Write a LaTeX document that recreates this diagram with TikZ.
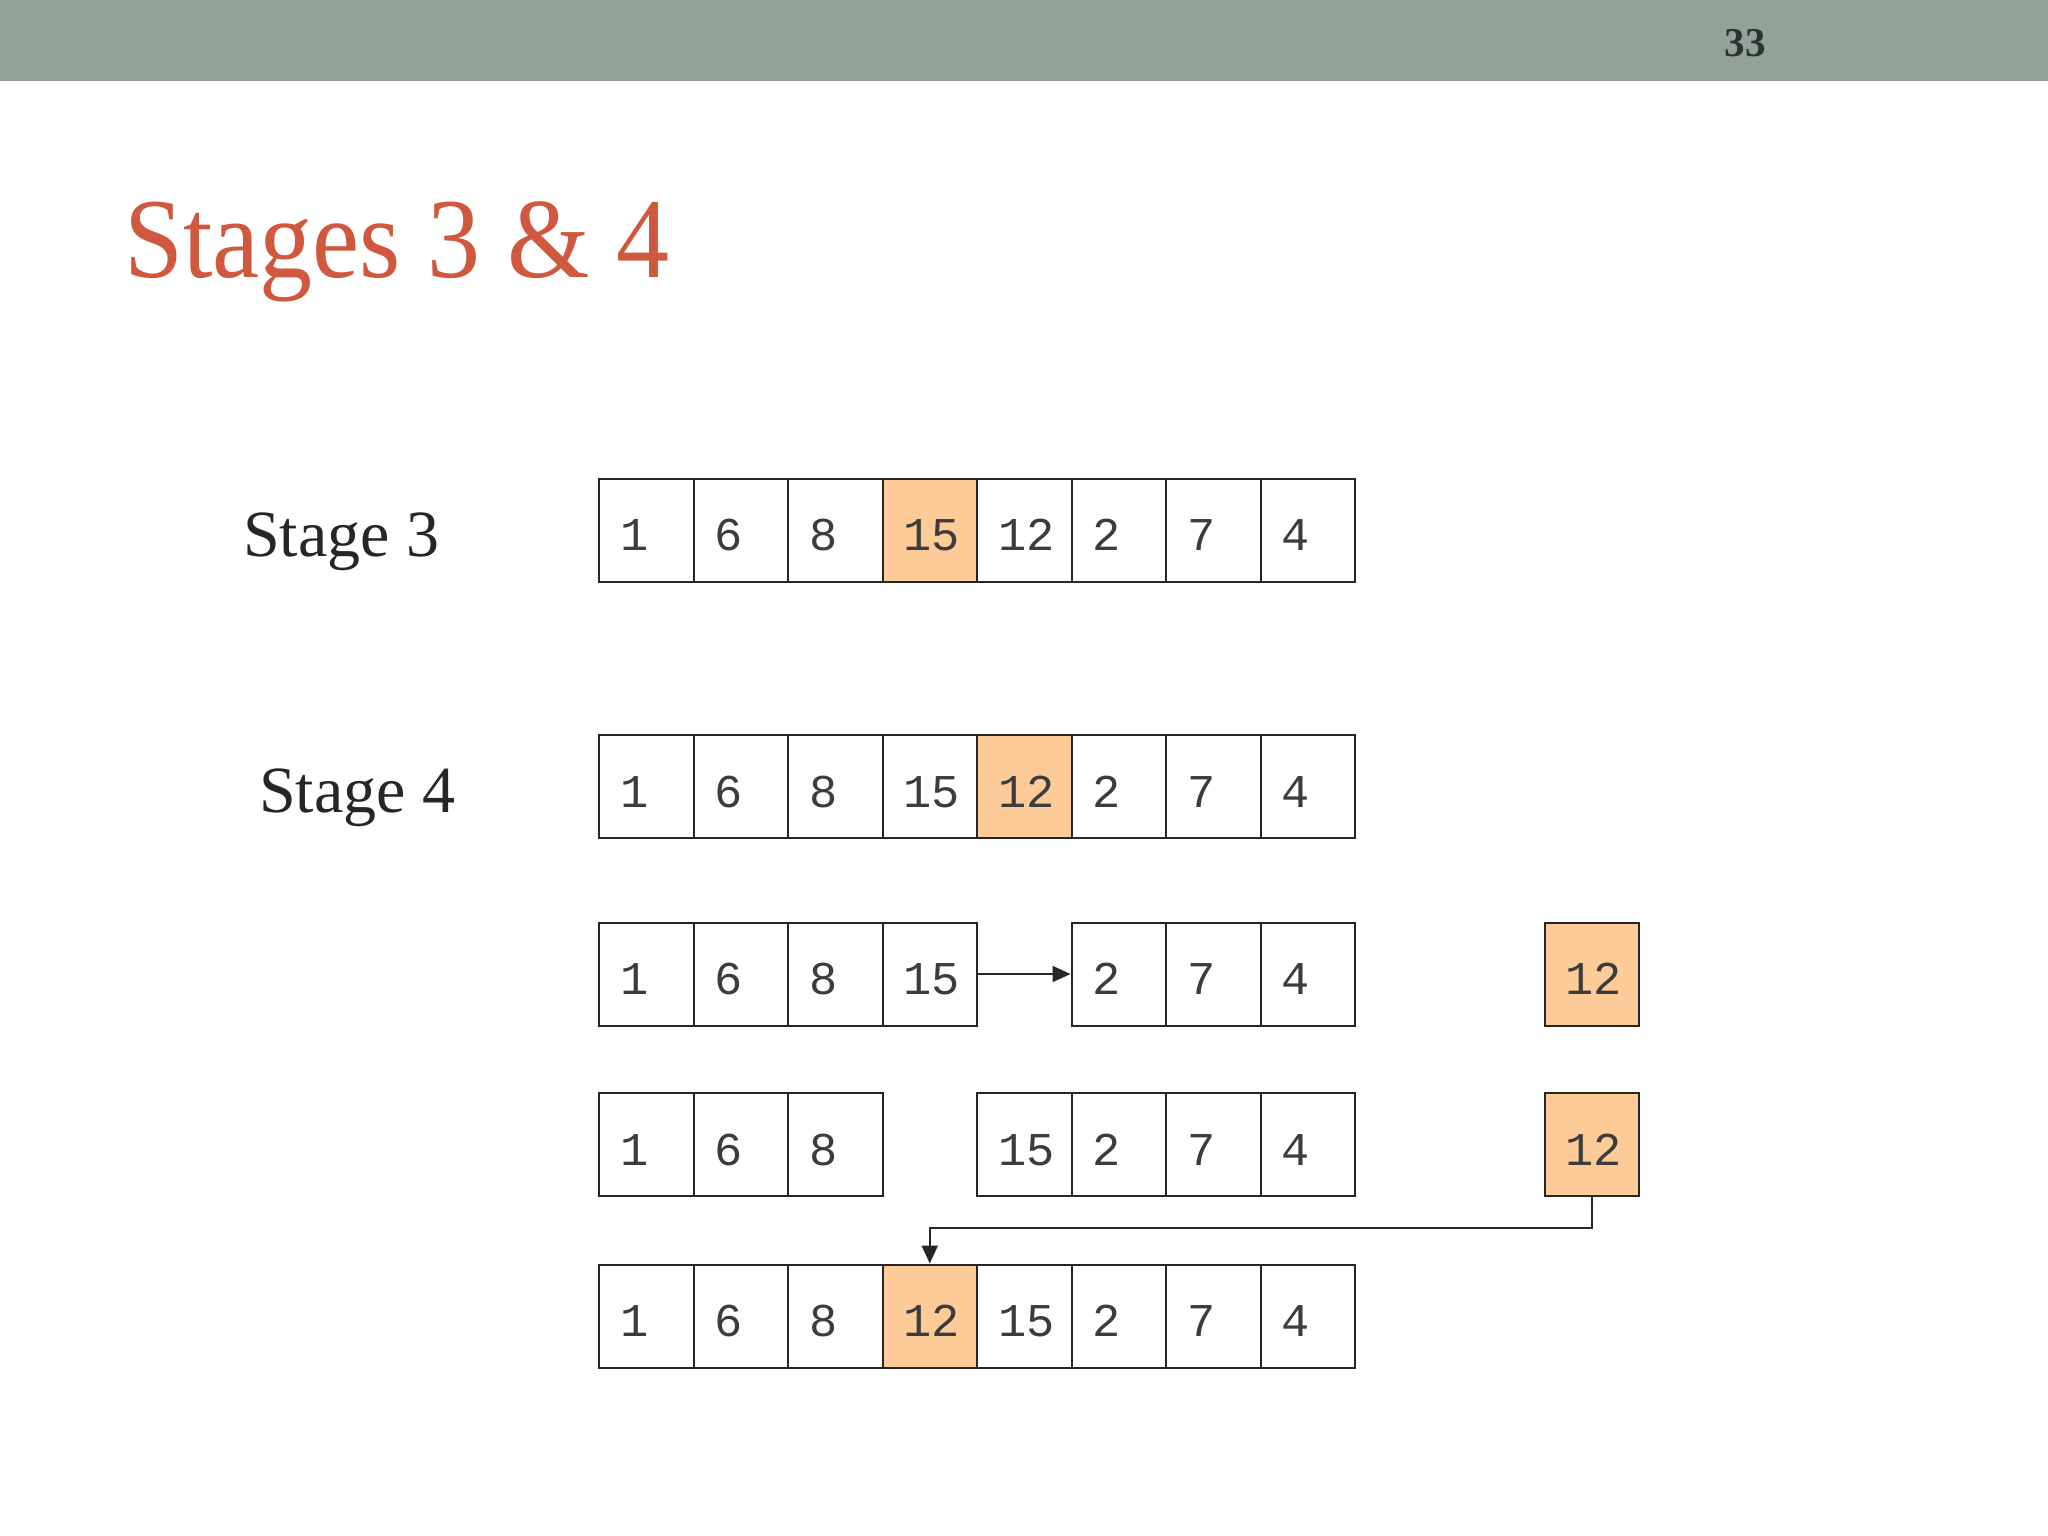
\documentclass[tikz,border=0pt]{standalone}
\usepackage{fontspec}
\setmainfont{Liberation Serif}
\newfontfamily\monof{Liberation Mono}
\newfontfamily\titlef[FakeStretch=0.93]{Liberation Serif}
\usetikzlibrary{arrows.meta,calc}
\definecolor{barcol}{HTML}{93A298}
\definecolor{titlecol}{HTML}{D0583E}
\definecolor{hlcol}{HTML}{FCCB98}
\definecolor{linecol}{HTML}{262626}
\definecolor{pgcol}{HTML}{2A3232}
\tikzset{
  cell/.style={draw=linecol, line width=2pt, fill=white, minimum width=94.5pt, minimum height=103pt, inner sep=0pt, anchor=north west},
  hl/.style={fill=hlcol},
  num/.style={font=\monof\fontsize{47}{56}\selectfont, text=linecol!90, inner sep=0pt, anchor=base west},
  stagelbl/.style={font=\fontsize{66}{78}\selectfont, text=linecol, inner sep=0pt, anchor=base west},
  arr/.style={draw=linecol, line width=2pt, -{Triangle[length=18pt,width=16pt]}}
}
% #1 row name, #2 top y, #3 list of col/value/hl
\newcommand\mkcells[3]{%
  \foreach \c/\v/\h in {#3}{%
    \node[cell,\h] (#1c\c) at ({598+(\c-1)*94.5}, #2) {};
    \node[num] at ([xshift=22pt,yshift=-73pt]#1c\c.north west) {\v};
  }%
}
\begin{document}
\begin{tikzpicture}[x=1pt,y=-1pt]
\useasboundingbox (0,0) rectangle (2048,1536);
\fill[white] (0,0) rectangle (2048,1536);
\fill[barcol] (0,0) rectangle (2048,81);
\node[font=\bfseries\fontsize{41}{48}\selectfont, text=pgcol, inner sep=0pt, anchor=base] (pg) at (1745,57) {33};
\node[font=\titlef\fontsize{114}{130}\selectfont, text=titlecol, inner sep=0pt, anchor=base west] (title) at (124,277) {Stages 3 \& 4};
\node[stagelbl] (s3) at (243,556) {Stage 3};
\node[stagelbl] (s4) at (259,812) {Stage 4};
% row 1
\mkcells{a}{477.5}{1/1/, 2/6/, 3/8/, 4/15/hl, 5/12/, 6/2/, 7/7/, 8/4/}
% row 2
\mkcells{b}{734}{1/1/, 2/6/, 3/8/, 4/15/, 5/12/hl, 6/2/, 7/7/, 8/4/}
% row 3
\mkcells{c}{921.5}{1/1/, 2/6/, 3/8/, 4/15/, 6/2/, 7/7/, 8/4/}
\node[cell,hl] (c12) at (1543.5,921.5) {};
\node[num] at ([xshift=22pt,yshift=-73pt]c12.north west) {12};
% row 4
\mkcells{d}{1092}{1/1/, 2/6/, 3/8/, 5/15/, 6/2/, 7/7/, 8/4/}
\node[cell,hl] (d12) at (1543.5,1092) {};
\node[num] at ([xshift=22pt,yshift=-73pt]d12.north west) {12};
% row 5
\mkcells{e}{1263.5}{1/1/, 2/6/, 3/8/, 4/12/hl, 5/15/, 6/2/, 7/7/, 8/4/}
% connectors
\draw[arr] (cc4.east) -- (cc6.west);
\coordinate (bend) at ($(ec4.north)+(0,-35.5)$);
\draw[arr] (d12.south) |- (bend) -- (ec4.north);
\end{tikzpicture}
\end{document}
